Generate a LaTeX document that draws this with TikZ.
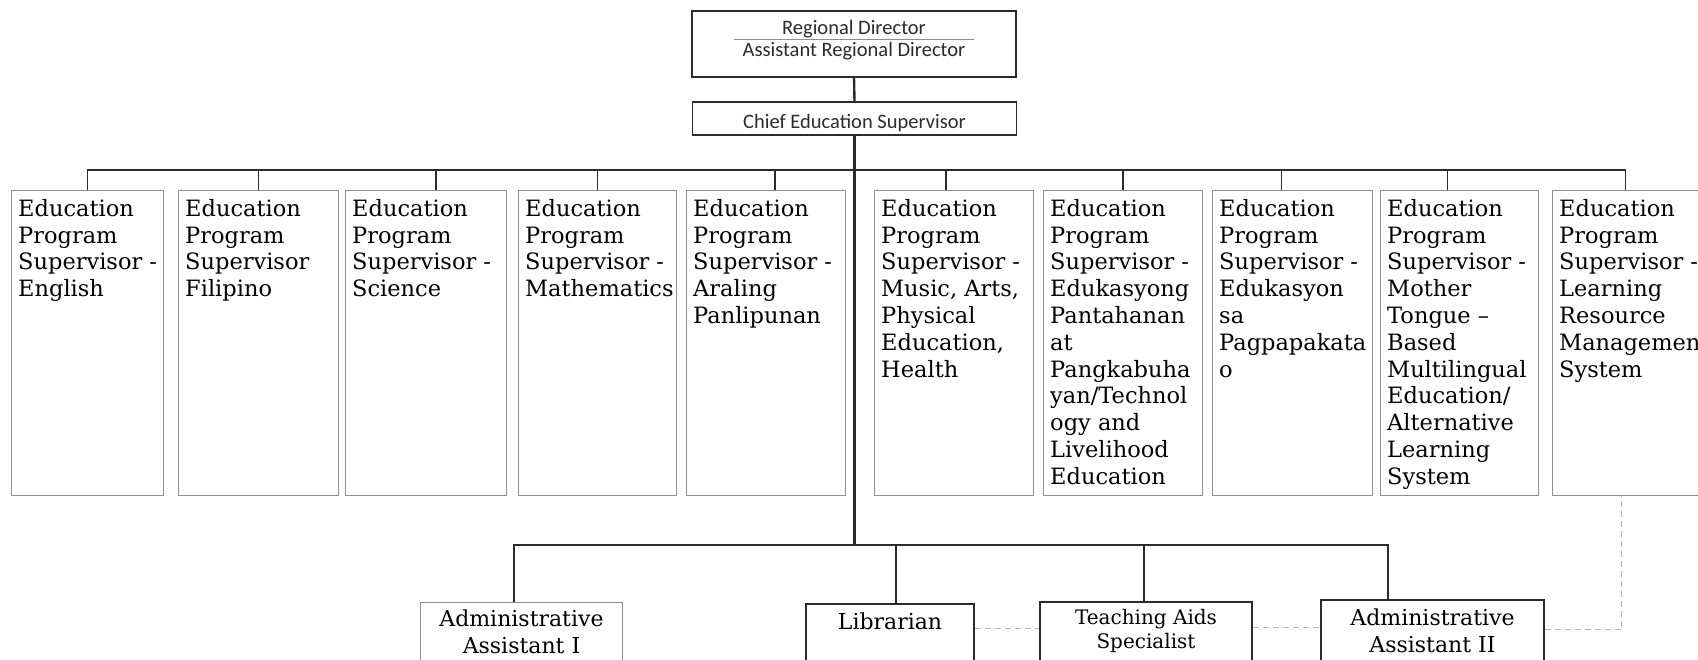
\documentclass[tikz,border=0pt]{standalone}
\usepackage{fontspec}
\setmainfont{DejaVu Serif}
\newfontfamily\headfont{Carlito}
\usepackage{xcolor}

\definecolor{inkdark}{HTML}{2B2B2B}
\definecolor{epsgray}{HTML}{8E8E8E}
\definecolor{dashgray}{HTML}{B4B4B4}

\begin{document}
\begin{tikzpicture}[x=1pt, y=-1pt,
    topbox/.style = {draw=inkdark, line width=1.6pt, minimum width=324pt, inner sep=0pt},
    toptext/.style = {anchor=center, align=center, text=inkdark, font=\headfont\fontsize{20.5}{22}\selectfont},
    eps/.style = {draw=epsgray, line width=1.1pt, anchor=north west, minimum width=159pt, minimum height=305pt, inner sep=0pt},
    epstext/.style = {anchor=north west, align=left, inner xsep=7pt, inner ysep=9pt, font=\fontsize{22.5}{26.8}\selectfont},
    lowbox/.style = {draw=inkdark, line width=1.6pt, anchor=north, minimum height=80pt, inner sep=0pt},
    lowtext/.style = {anchor=north, align=center, inner ysep=8pt, font=\fontsize{22}{27}\selectfont},
    tick/.style = {draw=inkdark, line width=1.6pt},
    trunk/.style = {draw=inkdark, line width=2.4pt},
    link/.style = {draw=dashgray, line width=1pt, dash pattern=on 6pt off 4pt}]
    \useasboundingbox (0,0) rectangle (1698,659);
    \clip (0,0) rectangle (1698,659);

    % top of the chart
    \node[topbox, minimum height=66pt, label={[toptext, yshift=4pt]center:Regional Director\\Assistant Regional Director}] (rd) at (854,44) {};
    \draw[epsgray, line width=0.6pt] ([xshift=-120pt, yshift=5pt]rd.center) -- ([xshift=120pt, yshift=5pt]rd.center);
    \node[topbox, minimum height=33pt, label={[toptext, yshift=-4.5pt]center:Chief Education Supervisor}] (chief) at (854.5,118.5) {};

    % program supervisors
    \node[eps, minimum width=152pt, label={[epstext]north west:Education\\Program\\Supervisor -\\English}] (ep1) at (11,190) {};
    \node[eps, minimum width=160pt, label={[epstext]north west:Education\\Program\\Supervisor\\Filipino}] (ep2) at (178,190) {};
    \node[eps, minimum width=161pt, label={[epstext]north west:Education\\Program\\Supervisor -\\Science}] (ep3) at (345,190) {};
    \node[eps, minimum width=158pt, label={[epstext]north west:Education\\Program\\Supervisor -\\Mathematics}] (ep4) at (518,190) {};
    \node[eps, label={[epstext]north west:Education\\Program\\Supervisor -\\Araling\\Panlipunan}] (ep5) at (686,190) {};
    \node[eps, label={[epstext]north west:Education\\Program\\Supervisor -\\Music, Arts,\\Physical\\Education,\\Health}] (ep6) at (874,190) {};
    \node[eps, label={[epstext]north west:Education\\Program\\Supervisor -\\Edukasyong\\Pantahanan\\at\\Pangkabuha\\yan/Technol\\ogy and\\Livelihood\\Education}] (ep7) at (1043,190) {};
    \node[eps, minimum width=160pt, label={[epstext]north west:Education\\Program\\Supervisor -\\Edukasyon\\sa\\Pagpapakata\\o}] (ep8) at (1212,190) {};
    \node[eps, minimum width=158pt, label={[epstext]north west:Education\\Program\\Supervisor -\\Mother\\Tongue --\\Based\\Multilingual\\Education/\\Alternative\\Learning\\System}] (ep9) at (1380,190) {};
    \node[eps, minimum width=160pt, label={[epstext]north west:Education\\Program\\Supervisor -\\Learning\\Resource\\Management\\System}] (ep10) at (1552,190) {};

    % staff
    \node[lowbox, draw=epsgray, line width=1.1pt, minimum width=202pt, label={[lowtext]north:Administrative\\Assistant I}] (aa1) at (521.5,602) {};
    \node[lowbox, minimum width=168pt, label={[lowtext, inner ysep=10pt]north:Librarian}] (lib) at (890,603) {};
    \node[lowbox, minimum width=212pt, label={[lowtext, font=\fontsize{20}{24}\selectfont]north:Teaching Aids\\Specialist}] (tas) at (1146,601) {};
    \node[lowbox, minimum width=223pt, label={[lowtext, inner ysep=10pt]north:Administrative\\Assistant II}] (aa2) at (1432.5,599) {};

    \coordinate (split) at (chief.south |- 0,170);
    \coordinate (lowsplit) at (chief.south |- 0,545);

    \draw[trunk] (rd.south) -- (chief.north);
    \draw[trunk] (chief.south) -- (lowsplit);

    \draw[tick] (ep1.north) |- (split);
    \draw[tick] (ep2.north) |- (split);
    \draw[tick] ([xshift=10pt]ep3.north) |- (split);
    \draw[tick] (ep4.north) |- (split);
    \draw[tick] ([xshift=9pt]ep5.north) |- (split);
    \draw[tick] ([xshift=-8pt]ep6.north) |- (split);
    \draw[tick] (ep7.north) |- (split);
    \draw[tick] ([xshift=-11pt]ep8.north) |- (split);
    \draw[tick] ([xshift=-12pt]ep9.north) |- (split);
    \draw[tick] ([xshift=-7pt]ep10.north) |- (split);

    \draw[tick] ([xshift=-7.5pt]aa1.north) |- (lowsplit);
    \draw[tick] ([xshift=6pt]lib.north) |- (lowsplit);
    \draw[tick] ([xshift=-2pt]tas.north) |- (lowsplit);
    \draw[tick] ([xshift=-44.5pt]aa2.north) |- (lowsplit);

    \draw[link] ([yshift=15pt]lib.east) -- ([yshift=15pt]lib.east -| tas.west);
    \draw[link] ([yshift=14pt]tas.east) -- ([yshift=14pt]tas.east -| aa2.west);
    \draw[link] ([yshift=10pt]aa2.east) -| ([xshift=-11pt]ep10.south);
\end{tikzpicture}
\end{document}
